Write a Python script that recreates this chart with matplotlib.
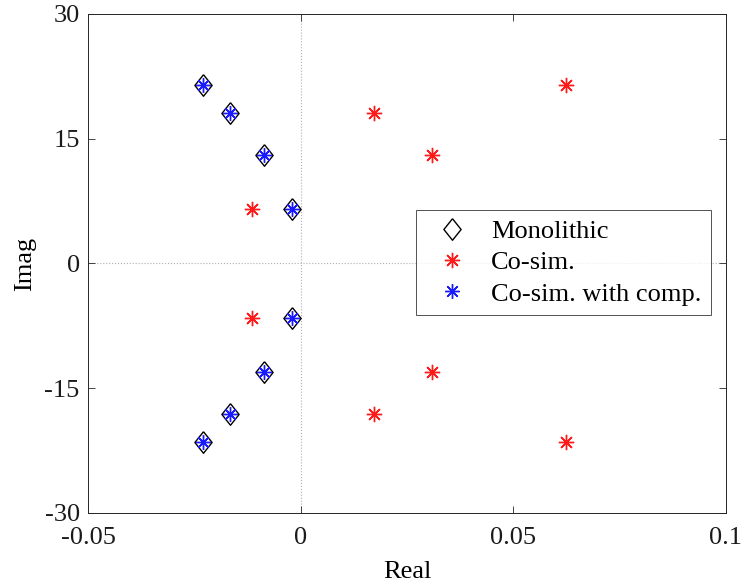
import numpy as np
import matplotlib.pyplot as plt
from matplotlib.lines import Line2D

plt.rcParams['font.family'] = ['Liberation Serif', 'DejaVu Serif']
plt.rcParams['axes.unicode_minus'] = False

# poles (conjugate pairs)
mono_re = [-0.0230, -0.0165, -0.0085, -0.0021, -0.0021, -0.0085, -0.0165, -0.0230]
mono_im = [21.43, 18.13, 13.05, 6.55, -6.55, -13.05, -18.13, -21.43]
cosim_re = [0.0625, 0.0172, 0.0308, -0.0115, -0.0115, 0.0308, 0.0172, 0.0625]
cosim_im = [21.43, 18.13, 13.05, 6.55, -6.55, -13.05, -18.13, -21.43]
comp_re = [-0.0230, -0.0165, -0.0085, -0.0021, -0.0021, -0.0085, -0.0165, -0.0230]
comp_im = [21.43, 18.13, 13.05, 6.55, -6.55, -13.05, -18.13, -21.43]

xticks = [-0.05, 0, 0.05, 0.1]
xticklabels = ['-0.05', '0', '0.05', '0.1']
yticks = [-30, -15, 0, 15, 30]

star = (8, 2, 0)  # 8-arm asterisk like matlab '*'
diamond = [(0, 1), (0.8, 0), (0, -1), (-0.8, 0), (0, 1)]  # matlab 'd' shape
fs = 19

fig = plt.figure(figsize=(7.43, 5.88), dpi=100)
ax = fig.add_axes([0.1184, 0.1276, 0.8587, 0.8486])

ax.axhline(0, color='#b0b0b0', lw=0.8, ls=':', zorder=0)
ax.axvline(0, color='#b0b0b0', lw=0.8, ls=':', zorder=0)

mono_style = dict(ls='none', marker=diamond, ms=15.5, mfc='none', mec='black', mew=1.0)
cosim_style = dict(ls='none', marker=star, ms=11, mfc='none', mec='#ff1a1a', mew=1.0)
comp_style = dict(ls='none', marker=star, ms=10.5, mfc='none', mec='#1a1aff', mew=1.0)

ax.plot(mono_re, mono_im, **mono_style)
ax.plot(cosim_re, cosim_im, **cosim_style)
ax.plot(comp_re, comp_im, **comp_style)

ax.set_xlim(-0.05, 0.1)
ax.set_ylim(-30, 30)
ax.set_xticks(xticks)
ax.set_xticklabels(xticklabels)
ax.set_yticks(yticks)
ax.tick_params(direction='in', top=True, right=True, labelsize=fs, colors='#262626', length=5, width=0.6)
ax.tick_params(axis='x', pad=10)
ax.tick_params(axis='y', pad=6)
ax.tick_params(labelcolor='#1a1a1a')
for sp in ax.spines.values():
    sp.set_color('#262626')
    sp.set_linewidth(0.7)

ax.set_xlabel('Real', fontsize=fs, labelpad=9)
ax.set_ylabel('Imag', fontsize=fs, labelpad=6)

handles = [Line2D([], [], **mono_style), Line2D([], [], **cosim_style), Line2D([], [], **comp_style)]
leg = ax.legend(handles, ['Monolithic', 'Co-sim.', 'Co-sim. with comp.'],
                loc='upper left', bbox_to_anchor=(0.514, 0.607), borderaxespad=0,
                fontsize=fs, frameon=True, fancybox=False, edgecolor='#262626',
                handletextpad=0.5, labelspacing=0.3, borderpad=0.35, handlelength=2.0)
leg.get_frame().set_linewidth(0.7)

fig.savefig('out.png', dpi=100)
